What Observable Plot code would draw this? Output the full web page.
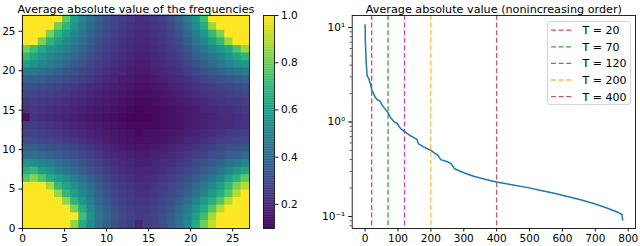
<!DOCTYPE html>
<html><head><meta charset="utf-8">
<script src="https://cdn.jsdelivr.net/npm/d3@7"></script>
<script src="https://cdn.jsdelivr.net/npm/@observablehq/plot@0.6"></script>
<style>
html,body{margin:0;padding:0;background:#fff;}
#root{position:relative;width:640px;height:246px;overflow:hidden;font-family:"DejaVu Sans",sans-serif;}
#root > *{position:absolute;}
svg{overflow:visible;}
</style></head><body><div id="root"></div>
<script>
// ---------- data ----------
const heatTitle = "Average absolute value of the frequencies";
const curveTitle = "Average absolute value (nonincreasing order)";
// 28x28 grid, listed from the top row (y index 27) down to the bottom row (y index 0)
const heatRowsTopDown = [
[1,1,1,1,1,.78,.6,.5,.42,.36,.32,.28,.26,.24,.22,.23,.25,.27,.31,.38,.48,.57,.72,1,1,1,1,1],
[1,1,1,1,.8,.68,.57,.48,.41,.35,.31,.28,.25,.23,.22,.22,.24,.26,.3,.36,.44,.54,.65,.86,1,1,1,1],
[1,1,1,.82,.68,.6,.52,.45,.39,.34,.3,.27,.24,.22,.21,.21,.23,.25,.28,.33,.4,.48,.58,.7,.82,1,1,1],
[1,1,.82,.68,.6,.54,.48,.42,.36,.32,.28,.25,.23,.21,.2,.2,.22,.24,.27,.31,.37,.44,.52,.6,.7,.86,1,1],
[.8,.72,.64,.58,.54,.5,.44,.39,.34,.3,.27,.24,.22,.2,.19,.19,.21,.23,.26,.29,.34,.4,.46,.52,.58,.64,.74,.86],
[.7,.63,.57,.52,.48,.44,.4,.36,.31,.28,.25,.23,.21,.19,.18,.18,.2,.22,.24,.27,.31,.36,.41,.46,.5,.56,.62,.68],
[.6,.55,.51,.47,.44,.4,.36,.33,.29,.26,.24,.22,.2,.18,.17,.17,.19,.21,.23,.25,.29,.33,.37,.41,.45,.5,.55,.58],
[.46,.45,.42,.4,.37,.34,.32,.29,.27,.24,.22,.2,.19,.17,.16,.16,.18,.19,.21,.23,.26,.29,.32,.35,.38,.41,.43,.46],
[.37,.37,.36,.34,.32,.3,.28,.26,.24,.22,.2,.19,.17,.16,.15,.15,.16,.18,.19,.21,.23,.25,.28,.3,.32,.34,.36,.37],
[.31,.31,.3,.29,.28,.26,.25,.23,.21,.2,.18,.17,.16,.15,.14,.14,.15,.16,.18,.19,.21,.23,.25,.26,.28,.29,.3,.31],
[.28,.28,.27,.26,.25,.24,.22,.21,.19,.18,.17,.16,.15,.14,.13,.13,.14,.15,.16,.18,.19,.21,.22,.24,.25,.26,.27,.28],
[.25,.26,.25,.24,.23,.22,.2,.19,.18,.17,.16,.15,.14,.13,.12,.12,.13,.14,.15,.16,.18,.19,.2,.22,.23,.24,.25,.26],
[.22,.24,.23,.22,.21,.2,.19,.18,.17,.16,.15,.14,.13,.12,.11,.12,.12,.13,.14,.15,.16,.17,.19,.2,.21,.22,.23,.24],
[.13,.23,.22,.21,.2,.19,.18,.17,.16,.15,.14,.13,.12,.11,.11,.11,.12,.13,.14,.15,.16,.17,.18,.19,.2,.21,.22,.23],
[.25,.25,.24,.23,.22,.2,.19,.18,.17,.16,.15,.14,.13,.12,.12,.12,.12,.13,.14,.15,.16,.17,.18,.19,.2,.21,.22,.23],
[.27,.27,.26,.25,.24,.22,.21,.2,.18,.17,.16,.15,.14,.13,.12,.13,.13,.14,.15,.16,.17,.18,.2,.21,.23,.24,.25,.26],
[.3,.3,.29,.28,.27,.25,.24,.22,.2,.19,.17,.16,.15,.14,.13,.14,.14,.15,.16,.17,.19,.2,.22,.24,.26,.27,.28,.29],
[.36,.36,.35,.33,.32,.3,.28,.26,.24,.22,.2,.18,.17,.16,.15,.15,.16,.17,.18,.2,.21,.23,.25,.27,.29,.31,.33,.34],
[.42,.42,.4,.38,.36,.34,.32,.3,.27,.25,.22,.2,.19,.18,.17,.17,.18,.19,.2,.22,.24,.26,.28,.31,.33,.36,.38,.4],
[.55,.54,.5,.47,.44,.4,.37,.34,.3,.27,.24,.22,.2,.19,.18,.18,.19,.21,.22,.24,.26,.29,.32,.35,.38,.42,.46,.5],
[.66,.7,.6,.55,.5,.45,.4,.36,.32,.29,.26,.23,.21,.2,.19,.19,.2,.22,.24,.26,.29,.32,.36,.4,.45,.5,.56,.62],
[.76,.84,.75,.66,.6,.55,.48,.42,.37,.33,.29,.25,.23,.22,.2,.21,.22,.24,.26,.29,.32,.36,.4,.46,.52,.6,.68,.78],
[1,1,1,.88,.7,.62,.55,.48,.42,.36,.31,.27,.25,.23,.22,.22,.24,.26,.28,.31,.35,.4,.46,.52,.6,.7,.82,.9],
[1,1,1,1,.85,.7,.6,.52,.45,.38,.33,.29,.26,.24,.23,.23,.25,.27,.3,.34,.38,.44,.5,.58,.66,.76,.9,1],
[1,1,1,1,1,.85,.68,.58,.48,.4,.35,.3,.27,.25,.24,.24,.26,.29,.32,.36,.42,.5,.58,.66,.76,.9,1,1],
[1,1,1,1,1,1,.82,.65,.52,.43,.37,.32,.28,.26,.25,.25,.27,.3,.34,.4,.47,.56,.65,.76,.9,1,1,1],
[1,1,1,1,1,1,1,.72,.55,.45,.38,.33,.29,.27,.25,.26,.28,.31,.36,.42,.5,.6,.72,.88,1,1,1,1],
[1,1,1,1,1,1,.85,.65,.52,.43,.37,.32,.28,.26,.2,.26,.28,.32,.37,.43,.52,.65,.8,.92,1,1,1,1]
];
const heatTicks = [0,5,10,15,20,25];
const colorbarTicks = [0.2,0.4,0.6,0.8,1.0];

const curveX = [0,1,3,6,11,16,21,31,36,43,48,52,62,70,77,87,97,108,118,125,139,150,158,162,180,200,215,222,230,250,262,272,300,330,370,400,450,495,535,575,615,655,695,735,770,781,783];
const curveY = [10.7,7.0,4.6,3.1,2.9,2.55,2.15,1.83,1.73,1.69,1.62,1.5,1.36,1.25,1.12,1.01,0.97,0.85,0.8,0.77,0.71,0.68,0.65,0.59,0.54,0.5,0.46,0.44,0.4,0.38,0.36,0.32,0.29,0.267,0.245,0.232,0.215,0.202,0.188,0.176,0.163,0.15,0.137,0.123,0.11,0.105,0.092];
const thresholds = [20,70,120,200,400];
const thresholdColors = ["#ff0000","#008000","#bf00bf","#ffa500","#a52a2a"];
const curveTicksX = [0,100,200,300,400,500,600,700,800];
const curveTicksY = [0.1,1,10];
const curveTickLabelsY = ["10\u207B\u00B9","10\u2070","10\u00B9"];

// ---------- layout ----------
const root = document.getElementById("root");
const FONT = "DejaVu Sans";
const baseStyle = {fontFamily: FONT, fontSize: "10.5px", color: "#000", background: "transparent", overflow: "visible"};
const N = heatRowsTopDown.length, SPAN = 27;
const cellW = SPAN / N;
const colorScale = {type: "linear", scheme: "viridis", domain: [0.098, 1], clamp: true};

function place(el, left, top) {
  el.style.position = "absolute"; el.style.left = left + "px"; el.style.top = top + "px";
  root.appendChild(el);
}

// heatmap
const cells = heatRowsTopDown.flatMap((row, i) => row.map((v, c) => ({c, r: N - 1 - i, v})));
const heat = Plot.plot({
  width: 260, height: 246,
  marginLeft: 22, marginRight: 11, marginTop: 15, marginBottom: 18,
  style: baseStyle,
  x: {domain: [0, SPAN]},
  y: {domain: [0, SPAN]},
  color: colorScale,
  marks: [
    Plot.rect(cells, {x1: d => d.c * cellW, x2: d => (d.c + 1) * cellW, y1: d => d.r * cellW, y2: d => (d.r + 1) * cellW, fill: "v", inset: -0.45}),
    Plot.frame({stroke: "#111", strokeWidth: 0.9}),
    Plot.axisX({ticks: heatTicks, tickSize: 3.5, tickPadding: 3, label: null, strokeWidth: 0.9}),
    Plot.axisY({ticks: heatTicks, tickSize: 3.5, tickPadding: 3.5, label: null, strokeWidth: 0.9}),
    Plot.text([heatTitle], {frameAnchor: "top", dy: -10, fontSize: 11.2})
  ]
});
place(heat, 0, 0);

// colorbar
const cbStep = 0.003;
const cbStops = d3.range(0.098, 1, cbStep);
const cbar = Plot.plot({
  width: 60, height: 246,
  marginLeft: 8, marginRight: 41, marginTop: 15, marginBottom: 18,
  style: baseStyle,
  x: {domain: [0, 1], axis: null},
  y: {domain: [0.098, 1]},
  color: colorScale,
  marks: [
    Plot.rect(cbStops, {x1: 0, x2: 1, y1: d => d, y2: d => Math.min(1, d + cbStep * 1.5), fill: d => d}),
    Plot.frame({stroke: "#111", strokeWidth: 0.9}),
    Plot.axisY({anchor: "right", ticks: colorbarTicks, tickFormat: d3.format(".1f"), tickSize: 3.5, tickPadding: 3, label: null, strokeWidth: 0.9})
  ]
});
place(cbar, 255, 0);

// sorted curve
const curve = curveX.map((x, i) => ({x, y: curveY[i]}));
const rules = thresholds.map((t, i) => ({t, color: thresholdColors[i]}));
const minorTicks = d3.scaleLog().domain([0.0746, 13.4]).ticks();
const right = Plot.plot({
  width: 340, height: 246,
  marginLeft: 51.7, marginRight: 5, marginTop: 15, marginBottom: 18,
  style: baseStyle,
  x: {domain: [-39.15, 822.15]},
  y: {type: "log", domain: [0.0746, 13.4]},
  color: {type: "identity"},
  marks: [
    Plot.ruleX(rules, {x: "t", stroke: "color", strokeDasharray: "5,2.6", strokeWidth: 1.3, strokeOpacity: 0.75}),
    Plot.line(curve, {x: "x", y: "y", stroke: "#1f77b4", strokeWidth: 1.5}),
    Plot.frame({stroke: "#111", strokeWidth: 0.9}),
    Plot.axisX({ticks: curveTicksX, tickSize: 3.5, tickPadding: 3, label: null, strokeWidth: 0.9}),
    Plot.axisY({ticks: minorTicks, tickSize: 2, tickFormat: () => "", label: null, strokeWidth: 0.7}),
    Plot.axisY({ticks: curveTicksY, tickSize: 3.5, tickPadding: 3.5, label: null, strokeWidth: 0.9,
      tickFormat: d => curveTickLabelsY[curveTicksY.indexOf(d)]}),
    Plot.text([curveTitle], {frameAnchor: "top", dy: -10, fontSize: 11.2})
  ]
});
place(right, 300, 0);

// legend
const leg = document.createElement("div");
leg.style.cssText = "width:84px;height:84px;border:1px solid #d5d5d5;border-radius:3px;background:rgba(255,255,255,0.85);box-sizing:border-box;";
const ns = "http://www.w3.org/2000/svg";
const lsvg = document.createElementNS(ns, "svg");
lsvg.setAttribute("width", 84); lsvg.setAttribute("height", 84);
thresholds.forEach((t, i) => {
  const y = 8.2 + i * 16.6;
  const ln = document.createElementNS(ns, "line");
  ln.setAttribute("x1", 3); ln.setAttribute("x2", 25); ln.setAttribute("y1", y); ln.setAttribute("y2", y);
  ln.setAttribute("stroke", thresholdColors[i]); ln.setAttribute("stroke-opacity", 0.75);
  ln.setAttribute("stroke-width", 1.3); ln.setAttribute("stroke-dasharray", "5,2.6");
  lsvg.appendChild(ln);
  const tx = document.createElementNS(ns, "text");
  tx.setAttribute("x", 34.5); tx.setAttribute("y", y + 3.9);
  tx.setAttribute("font-family", FONT); tx.setAttribute("font-size", 11);
  tx.textContent = "T = " + t;
  lsvg.appendChild(tx);
});
leg.appendChild(lsvg);
place(leg, 546.5, 20.5);
</script>
</body></html>
